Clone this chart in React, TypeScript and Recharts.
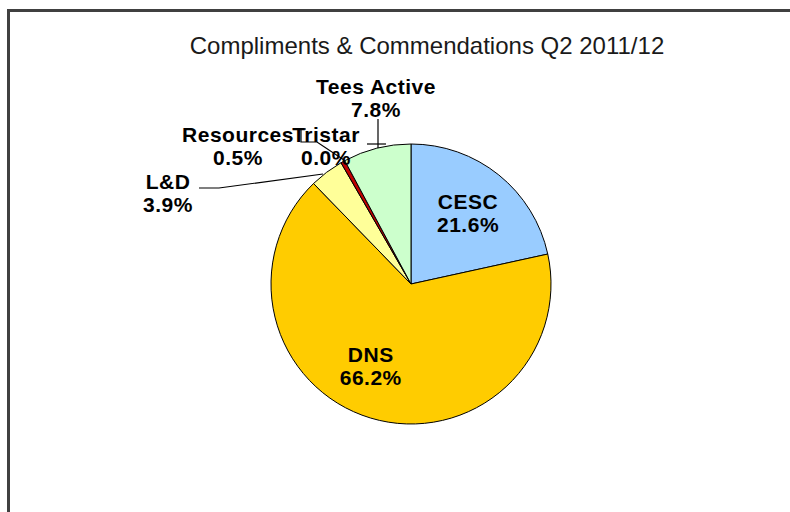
import React from "react";
import { PieChart, Pie, Cell } from "recharts";

const categories = ["CESC", "DNS", "L&D", "Resources", "Tristar", "Tees Active"];
const counts = [44, 135, 8, 1, 0, 16];
const percentLabels = ["21.6%", "66.2%", "3.9%", "0.5%", "0.0%", "7.8%"];
const sliceColors = ["#99CCFF", "#FFCC00", "#FFFF99", "#C00000", "#FF0000", "#CCFFCC"];
const titleText = "Compliments & Commendations Q2 2011/12";

const data = categories.map((name, i) => ({ name, value: counts[i], pct: percentLabels[i] }));

// label layout: offsets relative to the pie centre (outside labels) and leader polylines
const outsideLayout: Record<string, { dx: number; dy: number; leader: [number, number][] }> = {
  "L&D": { dx: -243, dy: -103, leader: [[-212, -96], [-192, -96], [-88, -110]] },
  Resources: { dx: -173, dy: -150, leader: [[-105, -155], [-110, -155], [-110, -142], [-94, -142], [-67, -124]] },
  Tristar: { dx: -85, dy: -150, leader: [[-44, -140], [-25, -140]] },
  "Tees Active": { dx: -35, dy: -198, leader: [[-33, -165], [-33, -136]] },
};
// small nudges for inside labels
const insideNudge: Record<string, [number, number]> = {
  CESC: [0, 0],
  DNS: [-14, -5],
};

const RAD = Math.PI / 180;
const LINE = 23;

const renderLabel = (props: any) => {
  const { cx, cy, midAngle, outerRadius, index } = props;
  const name = categories[index];
  const pct = percentLabels[index];
  const lay = outsideLayout[name];
  const style = { fontFamily: "'Liberation Sans', Arial, sans-serif", fontSize: 21, fontWeight: 700 as const, letterSpacing: 0.5 };
  if (lay) {
    const x = cx + lay.dx;
    const y = cy + lay.dy;
    const pts = lay.leader.map(([a, b]) => `${cx + a},${cy + b}`).join(" ");
    return (
      <g key={`lbl-${index}`}>
        <polyline points={pts} fill="none" stroke="#000" strokeWidth={1.2} />
        <text x={x} y={y} textAnchor="middle" dominantBaseline="central" fill="#000" style={style}>{name}</text>
        <text x={x} y={y + LINE} textAnchor="middle" dominantBaseline="central" fill="#000" style={style}>{pct}</text>
      </g>
    );
  }
  const r = outerRadius * 0.65;
  const [nx, ny] = insideNudge[name] || [0, 0];
  const x = cx + r * Math.cos(-midAngle * RAD) + nx;
  const y = cy + r * Math.sin(-midAngle * RAD) + ny;
  return (
    <g key={`lbl-${index}`}>
      <text x={x} y={y - LINE / 2} textAnchor="middle" dominantBaseline="central" fill="#000" style={style}>{name}</text>
      <text x={x} y={y + LINE / 2} textAnchor="middle" dominantBaseline="central" fill="#000" style={style}>{pct}</text>
    </g>
  );
};

export default function App() {
  return (
    <div style={{ position: "absolute", left: 0, top: 0, width: 790, height: 512, overflow: "hidden", background: "#fff" }}>
      <div style={{ position: "absolute", left: 7, top: 9, width: 900, height: 700, border: "3px solid #404040", boxSizing: "border-box" }} />
      <div style={{ position: "absolute", left: 0, top: 0 }}>
        <PieChart width={790} height={512}>
          <text x={427} y={45} textAnchor="middle" dominantBaseline="central" fill="#1a1a1a" style={{ fontFamily: "'Liberation Sans', Arial, sans-serif", fontSize: 24 }}>
            {titleText}
          </text>
          <Pie
            data={data}
            dataKey="value"
            nameKey="name"
            cx={406}
            cy={279}
            outerRadius={140}
            startAngle={90}
            endAngle={-270}
            stroke="#000"
            strokeWidth={1}
            label={renderLabel}
            labelLine={false}
            isAnimationActive={false}
          >
            {data.map((d, i) => (
              <Cell key={d.name} fill={sliceColors[i]} />
            ))}
          </Pie>
        </PieChart>
      </div>
    </div>
  );
}
